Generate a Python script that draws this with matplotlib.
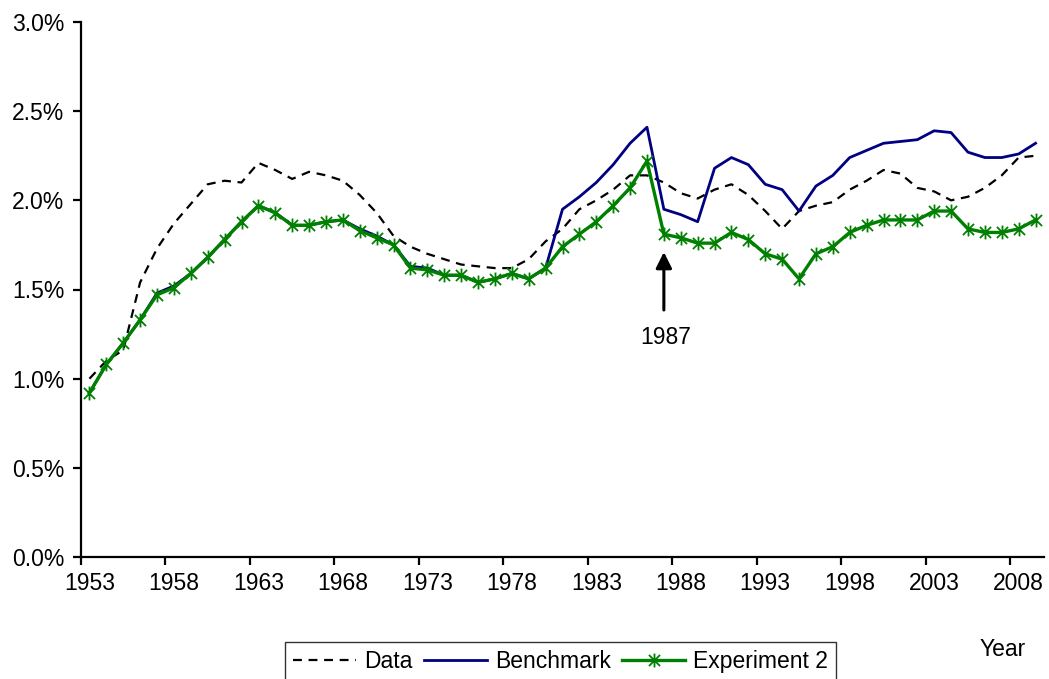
import matplotlib
matplotlib.use("Agg")
import matplotlib.pyplot as plt
from matplotlib.path import Path
from matplotlib.ticker import FixedLocator, FuncFormatter

plt.rcParams['font.family'] = ['Liberation Sans', 'DejaVu Sans']

years = list(range(1953, 2010))

data = [1.00, 1.10, 1.16, 1.54, 1.73, 1.87, 1.98, 2.09, 2.11, 2.10,
        2.21, 2.17, 2.12, 2.16, 2.14, 2.11, 2.03, 1.93, 1.80, 1.74,
        1.70, 1.67, 1.64, 1.63, 1.62, 1.62, 1.67, 1.77, 1.84, 1.95,
        2.00, 2.06, 2.14, 2.14, 2.10, 2.04, 2.01, 2.06, 2.09, 2.03,
        1.94, 1.84, 1.94, 1.97, 1.99, 2.06, 2.11, 2.17, 2.15, 2.07,
        2.05, 2.00, 2.02, 2.07, 2.14, 2.24, 2.25]

benchmark = [0.92, 1.08, 1.20, 1.33, 1.48, 1.52, 1.59, 1.68, 1.78, 1.88,
             1.97, 1.93, 1.86, 1.86, 1.88, 1.89, 1.84, 1.80, 1.75, 1.63,
             1.62, 1.58, 1.58, 1.54, 1.56, 1.59, 1.56, 1.62, 1.95, 2.02,
             2.10, 2.20, 2.32, 2.41, 1.95, 1.92, 1.88, 2.18, 2.24, 2.20,
             2.09, 2.06, 1.94, 2.08, 2.14, 2.24, 2.28, 2.32, 2.33, 2.34,
             2.39, 2.38, 2.27, 2.24, 2.24, 2.26, 2.32]

experiment2 = [0.92, 1.08, 1.20, 1.33, 1.47, 1.51, 1.59, 1.68, 1.78, 1.88,
               1.97, 1.93, 1.86, 1.86, 1.88, 1.89, 1.83, 1.79, 1.75, 1.62,
               1.61, 1.58, 1.58, 1.54, 1.56, 1.59, 1.56, 1.62, 1.74, 1.81,
               1.88, 1.97, 2.07, 2.22, 1.81, 1.79, 1.76, 1.76, 1.82, 1.78,
               1.70, 1.67, 1.56, 1.70, 1.74, 1.82, 1.86, 1.89, 1.89, 1.89,
               1.94, 1.94, 1.84, 1.82, 1.82, 1.84, 1.89]

label_years = list(range(1953, 2009, 5))
y_ticks = [0.0, 0.5, 1.0, 1.5, 2.0, 2.5, 3.0]

FS = 16.5

# asterisk: an X with a vertical bar
star = Path([(-1, -1), (1, 1), (-1, 1), (1, -1), (0, -1.25), (0, 1.25)],
            [Path.MOVETO, Path.LINETO, Path.MOVETO, Path.LINETO,
             Path.MOVETO, Path.LINETO])

fig = plt.figure(figsize=(10.49, 6.79), dpi=100)
ax = fig.add_axes([81 / 1049, 1 - 557 / 679, 963 / 1049, 535 / 679])

ax.plot(years, data, color='black', lw=1.6, ls=(0, (4, 3)), label='Data')
ax.plot(years, benchmark, color='#000080', lw=2.0, label='Benchmark')
ax.plot(years, experiment2, color='#008000', lw=2.4, marker=star,
        markersize=10, mec='#008000', mfc='none', mew=1.3,
        label='Experiment 2')

ax.set_xlim(1952.5, 2009.5)
ax.set_ylim(0, 3.0)

ax.spines['top'].set_visible(False)
ax.spines['right'].set_visible(False)
for s in ('left', 'bottom'):
    ax.spines[s].set_linewidth(1.6)

# ticks sit between categories, labels sit on them
ax.xaxis.set_major_locator(FixedLocator([y - 0.5 for y in label_years]))
ax.xaxis.set_major_formatter(FuncFormatter(lambda v, p: ''))
ax.xaxis.set_minor_locator(FixedLocator(label_years))
ax.xaxis.set_minor_formatter(FuncFormatter(lambda v, p: '%d' % round(v)))
ax.tick_params(axis='x', which='major', length=6, width=1.6, direction='out')
ax.tick_params(axis='x', which='minor', length=0, pad=11, labelsize=FS)

ax.set_yticks(y_ticks)
ax.yaxis.set_major_formatter(FuncFormatter(lambda v, p: '%.1f%%' % v))
ax.tick_params(axis='y', length=6, width=1.6, direction='out', pad=6,
               labelsize=FS)

ax.annotate('', xy=(1987, 1.71), xytext=(1987, 1.385),
            arrowprops=dict(arrowstyle='-|>', color='black', lw=2.2,
                            mutation_scale=24, shrinkA=0, shrinkB=0))
ax.text(1987.1, 1.23, '1987', ha='center', va='center', fontsize=FS)

fig.text(1003 / 1049, 1 - 650 / 679, 'Year', ha='center', va='center',
         fontsize=FS)

leg = fig.legend(loc='upper left', bbox_to_anchor=(285 / 1049, 1 - 642 / 679),
                 ncol=3, frameon=True, fancybox=False, fontsize=FS,
                 handlelength=2.75, handletextpad=0.35, columnspacing=0.5,
                 borderpad=0.35, borderaxespad=0)
leg.get_frame().set_edgecolor('black')
leg.get_frame().set_linewidth(1.0)

fig.savefig('out.png', dpi=100)
